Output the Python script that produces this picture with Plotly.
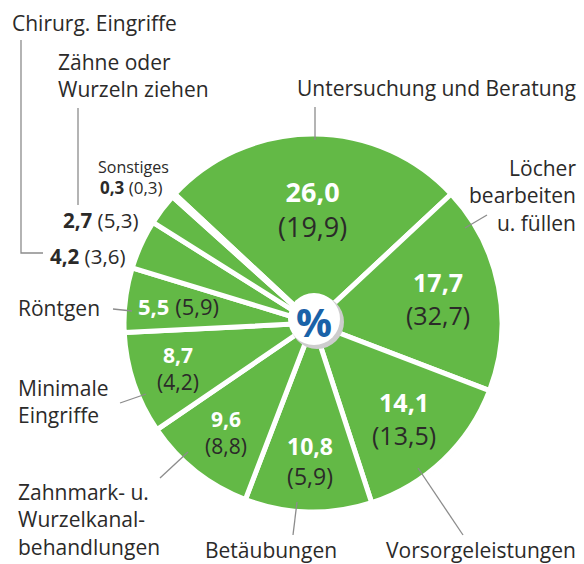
import math
import plotly.graph_objects as go

# ---- data ----
categories = ["Untersuchung und Beratung", "Löcher bearbeiten u. füllen", "Vorsorgeleistungen",
              "Betäubungen", "Zahnmark- u. Wurzelkanalbehandlungen", "Minimale Eingriffe",
              "Röntgen", "Chirurg. Eingriffe", "Zähne oder Wurzeln ziehen", "Sonstiges"]
values_now = [26.0, 17.7, 14.1, 10.8, 9.6, 8.7, 5.5, 4.2, 2.7, 0.3]
values_prev = [19.9, 32.7, 13.5, 5.9, 8.8, 4.2, 5.9, 3.6, 5.3, 0.3]

# ---- styles ----
W, H = 584, 564
CX, CY, R = 313, 323, 189
ROT = -47
GREEN = "#63b946"
SHADOW = "#cdcdcd"
DARK = "#2b2a29"
LEAD = "#8c8c8c"
BLUE = "#1a62a8"
FONT = "Open Sans"
OUT = 21

def fmt(v):
    return f"{v:.1f}".replace(".", ",")

def px(x):
    return x / W

def py(y):
    return 1 - y / H

fig = go.Figure()

def dom(dx=0, dy=0):
    return dict(x=[px(CX - R + dx), px(CX + R + dx)],
                y=[py(CY + R + dy), py(CY - R + dy)])

common = dict(labels=categories, values=values_now, sort=False, direction="clockwise",
              rotation=ROT, textinfo="none", hoverinfo="skip", showlegend=False)
fig.add_trace(go.Pie(**common, domain=dom(3, 3),
                     marker=dict(colors=[SHADOW] * len(values_now), line=dict(color="white", width=5))))
fig.add_trace(go.Pie(**common, domain=dom(0, 0),
                     marker=dict(colors=[GREEN] * len(values_now), line=dict(color="white", width=5))))

annotations = []
shapes = []

# inside labels (computed from slice angles)
label_radius = [114, 127, 132, 138, 140, 142, 136]
label_size = [27, 25, 25, 23, 21, 21, 22]
total = sum(values_now)
cum = 0
for i, v in enumerate(values_now):
    mid = ROT + (cum + v / 2) / total * 360
    cum += v
    if i >= len(label_radius):
        continue
    a = math.radians(mid)
    x = CX + label_radius[i] * math.sin(a)
    y = CY - label_radius[i] * math.cos(a)
    if i == 6:
        txt = f"<b>{fmt(v)}</b> <span style='color:{DARK}'>({fmt(values_prev[i])})</span>"
    else:
        txt = f"<b>{fmt(v)}</b><br><span style='color:{DARK}'>({fmt(values_prev[i])})</span>"
    annotations.append(dict(x=px(x), y=py(y), xref="paper", yref="paper", text=txt,
                            showarrow=False, xanchor="center", yanchor="middle",
                            font=dict(family=FONT, size=label_size[i], color="white")))

# outside labels
def add_text(text, x, y, xanchor="left", size=OUT, align="left"):
    annotations.append(dict(x=px(x), y=py(y), xref="paper", yref="paper", text=text,
                            showarrow=False, xanchor=xanchor, yanchor="middle", align=align,
                            font=dict(family=FONT, size=size, color=DARK)))

add_text(categories[0], 578, 88, "right")
add_text("Löcher<br>bearbeiten<br>u. füllen", 578, 196, "right", align="right")
add_text(categories[2], 578, 550, "right")
add_text(categories[3], 271, 550, "center", align="center")
add_text("Zahnmark- u.<br>Wurzelkanal-<br>behandlungen", 16, 519)
add_text("Minimale<br>Eingriffe", 16, 401)
add_text(categories[6], 16, 308)
add_text(categories[7], 10, 23)
add_text("Zähne oder<br>Wurzeln ziehen", 56, 76)
add_text(categories[9], 96, 167, size=16)
add_text(f"<b>{fmt(values_now[9])}</b> ({fmt(values_prev[9])})", 98, 188, size=17)
add_text(f"<b>{fmt(values_now[8])}</b> ({fmt(values_prev[8])})", 61, 220, size=20.5)
add_text(f"<b>{fmt(values_now[7])}</b> ({fmt(values_prev[7])})", 48, 256, size=20.5)

# leader lines
leaders = [
    [(21, 40), (21, 253), (43, 253)],
    [(78, 108), (78, 205)],
    [(315, 107), (315, 140)],
    [(487, 215), (465, 228)],
    [(113, 309), (132, 311)],
    [(120, 403), (146, 394)],
    [(160, 478), (188, 452)],
    [(297, 502), (293, 535)],
    [(418, 468), (463, 535)],
]
for pts in leaders:
    path = "M " + " L ".join(f"{px(x)},{py(y)}" for x, y in pts)
    shapes.append(dict(type="path", xref="paper", yref="paper", path=path,
                       line=dict(color=LEAD, width=1.3)))

# centre badge
def circle(cx, cy, r, color):
    return dict(type="circle", xref="paper", yref="paper",
                x0=px(cx - r), x1=px(cx + r), y0=py(cy + r), y1=py(cy - r),
                fillcolor=color, line=dict(width=0), layer="above")

shapes.append(circle(317, 322, 27, SHADOW))
shapes.append(circle(314, 319, 26, "white"))
annotations.append(dict(x=px(314), y=py(321), xref="paper", yref="paper", text="<b>%</b>",
                        showarrow=False, xanchor="center", yanchor="middle",
                        font=dict(family=FONT, size=40, color=BLUE)))

fig.update_layout(width=W, height=H, margin=dict(l=0, r=0, t=0, b=0),
                  paper_bgcolor="white", plot_bgcolor="white",
                  annotations=annotations, shapes=shapes)
fig.write_html("out.html")
